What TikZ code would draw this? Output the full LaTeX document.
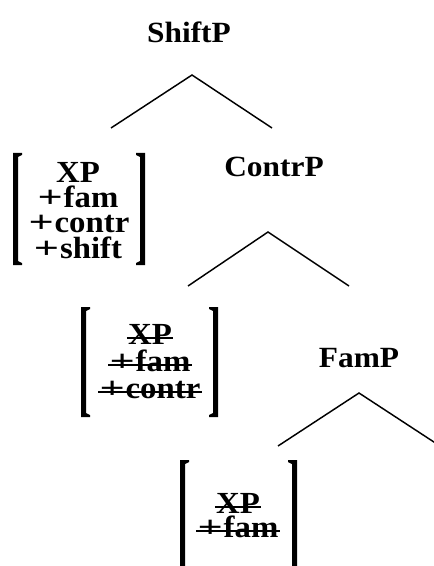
\documentclass[tikz,border=0pt]{standalone}
\usepackage{fontspec}
\usepackage{graphicx}
\setmainfont{Liberation Serif}[FakeStretch=1.07]
\usetikzlibrary{calc}

% square feature brackets: outer x, top y, bottom y
\newcommand{\leftbrk}[3]{\fill (#1,#2) -- (#1+9,#2) -- (#1+9,#2+2) -- (#1+5,#2+4) -- (#1+5,#3-4) -- (#1+9,#3-2) -- (#1+9,#3) -- (#1,#3) -- cycle;}
\newcommand{\rightbrk}[3]{\fill (#1,#2) -- (#1-9,#2) -- (#1-9,#2+2) -- (#1-5,#2+4) -- (#1-5,#3-4) -- (#1-9,#3-2) -- (#1-9,#3) -- (#1,#3) -- cycle;}
% strike a text node through
\newcommand{\strikenode}[1]{\draw[strike] ($(#1.base west)+(-1,-6)$) -- ($(#1.base east)+(1,-6)$);}
% wide plus sign for features
\newcommand{\fplus}{\scalebox{1.35}[1]{+}\kern0.6pt}

\begin{document}
\begin{tikzpicture}[x=0.75pt,y=-0.75pt,
  lbl/.style={font=\fontsize{22}{24}\selectfont\bfseries, inner sep=0pt, anchor=base},
  feat/.style={font=\fontsize{23}{24}\selectfont\bfseries, inner sep=0pt, anchor=base,
               text height=12pt, text depth=1pt},
  branch/.style={line width=1.1pt},
  strike/.style={line width=0.9pt}]
\useasboundingbox (0,0) rectangle (434,566);
\clip (0,0) rectangle (434,566);

% phrase labels
\node[lbl] (shiftp) at (189,43) {ShiftP};
\node[lbl] (contrp) at (274,177) {ContrP};
\node[lbl] (famp) at (359,367) {FamP};

% branching points
\coordinate (sp-top) at (192,75);
\coordinate (sp-l) at (111,128);
\coordinate (sp-r) at (272,128);
\coordinate (cp-top) at (268,232);
\coordinate (cp-l) at (188,286);
\coordinate (cp-r) at (349,286);
\coordinate (fp-top) at (359,393);
\coordinate (fp-l) at (278,446);
\coordinate (fp-r) at (440,446);

\draw[branch] (sp-l) -- (sp-top) -- (sp-r);
\draw[branch] (cp-l) -- (cp-top) -- (cp-r);
\draw[branch] (fp-l) -- (fp-top) -- (fp-r);

% first feature bundle
\node[feat] (a1) at (78,183) {XP};
\node[feat] (a2) at (78,208) {\fplus fam};
\node[feat] (a3) at (79,233) {\fplus contr};
\node[feat] (a4) at (78,258) {\fplus shift};
\leftbrk{13}{153}{265}
\rightbrk{145}{153}{265}

% second feature bundle (struck through)
\node[feat] (b1) at (150,344) {XP};
\node[feat] (b2) at (150,371) {\fplus fam};
\node[feat] (b3) at (150,398) {\fplus contr};
\strikenode{b1}
\strikenode{b2}
\strikenode{b3}
\leftbrk{81}{307}{417}
\rightbrk{218}{307}{417}

% third feature bundle (struck through)
\node[feat] (c1) at (238,513) {XP};
\node[feat] (c2) at (238,537) {\fplus fam};
\strikenode{c1}
\strikenode{c2}
\leftbrk{180}{460}{600}
\rightbrk{297}{460}{600}
\end{tikzpicture}
\end{document}
